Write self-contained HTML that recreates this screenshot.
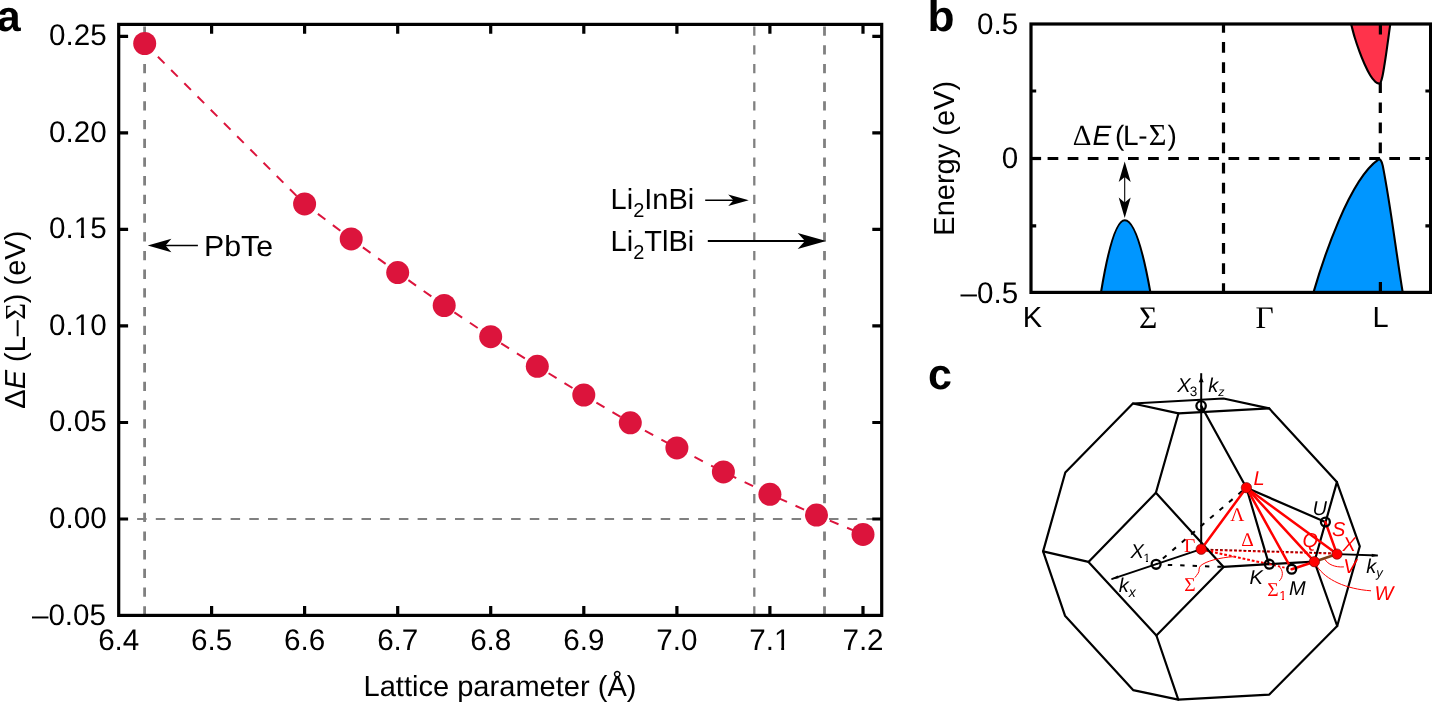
<!DOCTYPE html>
<html>
<head>
<meta charset="utf-8">
<title>Figure</title>
<style>
html,body{margin:0;padding:0;background:#fff;}
body{width:1432px;height:703px;overflow:hidden;font-family:"Liberation Sans",sans-serif;}
svg{display:block;position:absolute;left:0;top:0;text-rendering:geometricPrecision;will-change:transform;font-family:"Liberation Sans",sans-serif;fill:#000;}
.t{font-size:29px;}
.ser{font-family:"Liberation Serif",serif;}
.it{font-style:italic;}
.pl{font-weight:bold;}
.c{font-size:20px;font-style:italic;}
.r{fill:#f00;}
</style>
</head>
<body>
<svg width="1432" height="703" viewBox="0 0 1432 703">

<!-- ================= PANEL A ================= -->
<g id="panelA">
<text class="pl" font-size="43" x="-3.2" y="31.2">a</text>

<!-- grey reference lines -->
<g stroke="#808080" fill="none">
<line x1="144.6" y1="26.5" x2="144.6" y2="614" stroke-width="2.8" stroke-dasharray="9.3 9.4"/>
<line x1="754.3" y1="26.5" x2="754.3" y2="614" stroke-width="2.3" stroke-dasharray="9.3 9.4"/>
<line x1="824.5" y1="26.5" x2="824.5" y2="614" stroke-width="2.8" stroke-dasharray="9.3 9.4"/>
<line x1="137.1" y1="519" x2="881" y2="519" stroke-width="2" stroke-dasharray="9.5 9.2"/>
</g>

<!-- data line -->
<polyline fill="none" stroke="#dc143c" stroke-width="2" stroke-dasharray="9.4 9.3"
 points="144.7,43.5 304.6,203.9 351.2,238.9 397.7,272.6 444.2,305.5 490.7,336.7 537.3,366.3 583.8,395 630.3,422.8 676.9,447.9 723.4,471.9 769.9,494.3 816.5,515.1 863,534.4"/>
<g fill="#dc143c">
<circle cx="144.7" cy="43.5" r="11.5"/>
<circle cx="304.6" cy="203.9" r="11.5"/>
<circle cx="351.2" cy="238.9" r="11.5"/>
<circle cx="397.7" cy="272.6" r="11.5"/>
<circle cx="444.2" cy="305.5" r="11.5"/>
<circle cx="490.7" cy="336.7" r="11.5"/>
<circle cx="537.3" cy="366.3" r="11.5"/>
<circle cx="583.8" cy="395" r="11.5"/>
<circle cx="630.3" cy="422.8" r="11.5"/>
<circle cx="676.9" cy="447.9" r="11.5"/>
<circle cx="723.4" cy="471.9" r="11.5"/>
<circle cx="769.9" cy="494.3" r="11.5"/>
<circle cx="816.5" cy="515.1" r="11.5"/>
<circle cx="863" cy="534.4" r="11.5"/>
</g>

<!-- frame + ticks -->
<g stroke="#000" stroke-width="3.2" fill="none">
<rect x="118.7" y="24.4" width="763" height="591"/>
<!-- bottom ticks -->
<path d="M211.6 615.4V606 M304.6 615.4V606 M397.7 615.4V606 M490.7 615.4V606 M583.8 615.4V606 M676.9 615.4V606 M769.9 615.4V606 M863 615.4V606"/>
<!-- top ticks -->
<path d="M211.6 24.4V33.8 M304.6 24.4V33.8 M397.7 24.4V33.8 M490.7 24.4V33.8 M583.8 24.4V33.8 M676.9 24.4V33.8 M769.9 24.4V33.8 M863 24.4V33.8"/>
<!-- left ticks -->
<path d="M118.7 36.3H128.1 M118.7 132.9H128.1 M118.7 229.4H128.1 M118.7 325.9H128.1 M118.7 422.5H128.1 M118.7 519H128.1"/>
<!-- right ticks -->
<path d="M881.7 36.3H872.3 M881.7 132.9H872.3 M881.7 229.4H872.3 M881.7 325.9H872.3 M881.7 422.5H872.3 M881.7 519H872.3"/>
</g>

<!-- y tick labels -->
<g class="t" text-anchor="end">
<text transform="translate(106.6 45.1) scale(1 1.005)" font-size="29.6">0.25</text>
<text transform="translate(106.6 141.6) scale(1 1.005)" font-size="29.6">0.20</text>
<text transform="translate(106.6 238.1) scale(1 1.005)" font-size="29.6">0.15</text>
<text transform="translate(106.6 334.7) scale(1 1.005)" font-size="29.6">0.10</text>
<text transform="translate(106.6 431.2) scale(1 1.005)" font-size="29.6">0.05</text>
<text transform="translate(106.6 527.9) scale(1 1.005)" font-size="29.6">0.00</text>
<text transform="translate(106 624.6) scale(1 1.005)" font-size="29.6">–0.05</text>
</g>
<!-- x tick labels -->
<g class="t" text-anchor="middle">
<text transform="translate(118.7 649.6) scale(1 1.005)" font-size="29.6">6.4</text>
<text transform="translate(211.6 649.6) scale(1 1.005)" font-size="29.6">6.5</text>
<text transform="translate(304.6 649.6) scale(1 1.005)" font-size="29.6">6.6</text>
<text transform="translate(397.7 649.6) scale(1 1.005)" font-size="29.6">6.7</text>
<text transform="translate(490.7 649.6) scale(1 1.005)" font-size="29.6">6.8</text>
<text transform="translate(583.8 649.6) scale(1 1.005)" font-size="29.6">6.9</text>
<text transform="translate(676.9 649.6) scale(1 1.005)" font-size="29.6">7.0</text>
<text transform="translate(769.9 649.6) scale(1 1.005)" font-size="29.6">7.1</text>
<text transform="translate(863 649.6) scale(1 1.005)" font-size="29.6">7.2</text>
</g>
<!-- hide foot serif of "1" glyphs (target font has none) -->
<g fill="#fff">
<rect x="75.3" y="234.6" width="5.6" height="3.9"/><rect x="84.1" y="234.6" width="5.2" height="3.9"/>
<rect x="75.3" y="331.6" width="5.6" height="3.9"/><rect x="84.1" y="331.6" width="5.2" height="3.9"/>
<rect x="775.3" y="646.6" width="5.9" height="3.9"/><rect x="784.1" y="646.6" width="5.2" height="3.9"/>
</g>
<text class="t" x="500" y="696" text-anchor="middle" textLength="273" lengthAdjust="spacingAndGlyphs">Lattice parameter (Å)</text>
<text class="t" transform="translate(24.9 319.7) rotate(-90)" text-anchor="middle">Δ<tspan class="it">E</tspan> (L–<tspan class="ser">Σ</tspan>) (eV)</text>

<!-- annotations -->
<text class="t" x="204" y="256.2" textLength="69" lengthAdjust="spacingAndGlyphs">PbTe</text>
<path d="M197.9 245.5H160" stroke="#000" stroke-width="1.6" fill="none"/>
<path d="M147.7 245.5L171.4 238.7L165.5 245.5L171.4 252.3Z" fill="#000"/>

<text class="t" x="610.6" y="208.8">Li<tspan font-size="20" dy="7.7">2</tspan><tspan dy="-7.7">InBi</tspan></text>
<path d="M705.2 200.3H738" stroke="#000" stroke-width="1.4" fill="none"/>
<path d="M748.8 200.3L728.2 194.6L733.5 200.3L728.2 206Z" fill="#000"/>

<text class="t" x="610.6" y="251.2">Li<tspan font-size="20" dy="7.7">2</tspan><tspan dy="-7.7">TlBi</tspan></text>
<path d="M707.8 240.9H810" stroke="#000" stroke-width="2" fill="none"/>
<path d="M826.2 240.9L797.7 232.9L805 240.9L797.7 248.9Z" fill="#000"/>
</g>

<!-- ================= PANEL B ================= -->
<g id="panelB">
<text class="pl" font-size="43" transform="translate(927.4 31) scale(1.03 1)">b</text>

<!-- dashed guide lines -->
<g stroke="#000" fill="none" stroke-width="3.2">
<line x1="1031" y1="158.5" x2="1041.1" y2="158.5"/>
<line x1="1047.6" y1="158.5" x2="1430" y2="158.5" stroke-dasharray="10.7 9.4"/>
<line x1="1223.5" y1="24" x2="1223.5" y2="292" stroke-dasharray="10.7 9.4" stroke-dashoffset="2"/>
<line x1="1380.3" y1="24" x2="1380.3" y2="160" stroke-dasharray="10.7 9.4" stroke-dashoffset="2"/>
</g>

<!-- filled bands -->
<path d="M1101 292.4Q1112.9 220.2 1124.8 220.2Q1137.6 220.2 1150.4 292.4Z" fill="#0096ff" stroke="#000" stroke-width="2.1" stroke-linejoin="round"/>
<path d="M1313.5 292.4C1323 259.7 1349.2 179.8 1378.3 159.7C1380 158.6 1381.7 160.3 1382.8 165.9C1390.9 207.4 1395.8 250.6 1402.7 292.4Z" fill="#0096ff" stroke="#000" stroke-width="2.1" stroke-linejoin="round"/>
<path d="M1351.1 24.0C1351.7 26.3 1353.4 33.2 1354.8 37.8C1356.2 42.4 1357.8 47.0 1359.4 51.4C1361.0 55.8 1362.7 60.0 1364.5 64.0C1366.3 68.0 1368.4 72.3 1370.2 75.3C1372.0 78.3 1373.8 80.4 1375.3 81.8C1376.8 83.2 1378.3 83.5 1379.2 83.6C1380.1 83.7 1380.1 83.8 1380.6 82.6C1381.1 81.4 1381.7 79.6 1382.4 76.5C1383.1 73.4 1383.9 68.2 1384.6 64.0C1385.3 59.8 1385.9 55.8 1386.5 51.4C1387.1 47.0 1387.8 42.4 1388.4 37.8C1389.0 33.2 1390.0 26.3 1390.3 24.0Z" fill="#ff334b" stroke="#000" stroke-width="2.1" stroke-linejoin="round"/>

<!-- frame + ticks -->
<g stroke="#000" stroke-width="3.2" fill="none">
<rect x="1031" y="24" width="399.6" height="268.4"/>
<path d="M1031 91H1036.2 M1031 225.8H1036.2 M1430.6 91H1425.4 M1430.6 158.5H1425.4 M1430.6 225.8H1425.4"/>
<path d="M1380.4 24V34.6 M1380.4 292.4V282"/>
</g>

<!-- tick labels -->
<g class="t" text-anchor="end">
<text transform="translate(1018.2 33.6) scale(1 1.005)" font-size="29.6">0.5</text>
<text transform="translate(1018.2 168.3) scale(1 1.005)" font-size="29.6">0</text>
<text transform="translate(1018.2 302.6) scale(1 1.005)" font-size="29.6">–0.5</text>
</g>
<text class="t" x="1032.5" y="327.4" text-anchor="middle">K</text>
<text class="ser" font-size="31.5" x="1148.2" y="328.3" text-anchor="middle">Σ</text>
<text class="ser" font-size="31.5" x="1264.7" y="327.9" text-anchor="middle">Γ</text>
<text class="t" x="1380.6" y="327.3" text-anchor="middle">L</text>
<text class="t" transform="translate(954.2 158.3) rotate(-90)" text-anchor="middle">Energy (eV)</text>
<text font-size="28" y="145"><tspan class="ser" font-size="29" x="1072.7">Δ</tspan><tspan class="it" x="1092.6">E</tspan><tspan x="1115.1">(</tspan><tspan x="1123.1">L</tspan><tspan x="1138.2">-</tspan><tspan class="ser" font-size="30.5" x="1148.7">Σ</tspan><tspan x="1167.4">)</tspan></text>

<!-- double arrow -->
<path d="M1124.7 172V208" stroke="#000" stroke-width="1.1" fill="none"/>
<path d="M1124.7 161.6L1118.7 182L1124.7 177L1130.7 182Z" fill="#000"/>
<path d="M1124.7 218L1118.7 197.6L1124.7 202.6L1130.7 197.6Z" fill="#000"/>
</g>

<!-- ================= PANEL C ================= -->
<g id="panelC">
<text class="pl" font-size="43" x="928" y="389.3">c</text>

<!-- red dotted -->
<g stroke="#f00" stroke-width="2.1" fill="none" stroke-dasharray="2.8 1.9">
<path d="M1201.2 549.6L1337 553.6"/>
<path d="M1201.2 549.6L1268.9 564.1"/>
</g>
<path d="M1201.2 549.2L1337 553.2" stroke="#000" stroke-opacity="0.5" stroke-width="1.1" fill="none" stroke-dasharray="2.8 1.9"/>
<!-- polyhedron -->
<g stroke="#000" stroke-width="2.2" fill="none" stroke-linejoin="round" stroke-linecap="round">
<path d="M1132.9 403.5L1223.5 398.5L1269.1 408.3L1336.9 482.1L1359.8 546.3L1337.2 626L1269.3 694.6L1178.3 699.6L1133.1 690.1L1065 615.7L1043.1 551.4L1065.3 472.5Z"/>
<path d="M1132.9 403.5L1178.5 413.3L1269.1 408.3"/>
<path d="M1178.5 413.3L1155.9 492.8"/>
<path d="M1155.9 492.8L1088.5 561.9L1156.4 635.5L1223.6 566.9Z"/>
<path d="M1043.1 551.4L1088.5 561.9"/>
<path d="M1156.4 635.5L1178.3 699.6"/>
<path d="M1223.6 566.9L1268.9 564.1L1314.4 561.7"/>
<path d="M1336.9 482.1L1314.4 561.7L1337.2 626"/>
<!-- axes -->
<path d="M1201.2 549V373.2" stroke-width="2" stroke-linecap="butt"/>
<path d="M1201.2 549.2L1111.5 579.1" stroke-width="1.9" stroke-linecap="butt"/>
<path d="M1337 554.1L1377.8 555.5" stroke-width="1.9" stroke-linecap="butt"/>
<!-- inner black lines -->
<path d="M1201.3 406L1246.4 487.7"/>
<path d="M1246.4 487.7L1325.4 522"/>
<path d="M1246.4 487.7L1268.9 564.1"/>
</g>
<!-- axis arrowheads -->
<path d="M1201.2 376.6L1198.7 382.2L1203.7 382.2Z" fill="#000"/>
<path d="M1110.6 579.4L1118.6 578.2L1117.7 575.5Z" fill="#000"/>
<path d="M1378.3 555.5L1371.8 553.7L1371.7 557Z" fill="#000"/>

<!-- dashed black -->
<g stroke="#000" stroke-width="2" fill="none">
<path d="M1246.4 487.4L1156.1 564.3" stroke-dasharray="4.8 7.6" stroke-dashoffset="-5.7"/>
<path d="M1167.8 564.9L1223.6 566.9" stroke-dasharray="4.4 8"/>
</g>


<!-- red thick -->
<g stroke="#f00" stroke-width="2.5" fill="none" stroke-linecap="round">
<path d="M1201.2 549.2L1246.4 487.7"/>
<path d="M1246.4 487.7L1289.2 564.8"/>
<path d="M1246.4 487.7L1314.4 561.7"/>
<path d="M1246.4 487.7L1337 554.1"/>
<path d="M1325.4 522L1337 554.1"/>
<path d="M1291.7 569.2L1314.4 561.7"/>
</g>
<path d="M1314.4 561.7L1337 554.1" stroke="#7d3f17" stroke-width="2.6" fill="none"/>

<path d="M1269.3 564.2L1291.7 569.2" stroke="#f00" stroke-width="1.8" fill="none" stroke-dasharray="2.4 2"/>
<!-- thin red pointers -->
<g stroke="#f00" stroke-width="1" fill="none">
<path d="M1233.2 556.7C1220 557.6 1206 561 1200.5 565.8C1198 568.5 1200 571 1198 573.4C1197 575 1196 576 1194.9 577.6"/>
<path d="M1278.9 566.4C1283.3 570 1283.6 577 1279.2 581"/>
<path d="M1324.7 559.1C1328 564.5 1335 567.5 1343.9 566.9"/>
<path d="M1316.9 566.2C1326 580 1346 589 1371 590.8"/>
</g>

<!-- rings -->
<g stroke="#000" stroke-width="2.3" fill="none">
<circle cx="1201.1" cy="405.8" r="4.7"/>
<circle cx="1156.1" cy="564.3" r="4.45"/>
<circle cx="1269.3" cy="564.2" r="4.45"/>
<circle cx="1291.7" cy="569.2" r="4.45"/>
<circle cx="1325.4" cy="522" r="4.45"/>
</g>
<!-- red dots -->
<g fill="#f00" stroke="#600" stroke-width="0.6">
<circle cx="1201.2" cy="549.2" r="5.2"/>
<circle cx="1246.4" cy="487.7" r="5.2"/>
<circle cx="1314.4" cy="561.7" r="5.2"/>
<circle cx="1337" cy="554.1" r="5.2"/>
</g>

<!-- labels black -->
<g class="c">
<text x="1177.3" y="391.7">X<tspan font-size="13.5" font-style="normal" dy="4.4" dx="-0.8">3</tspan></text>
<text x="1208.3" y="392.2">k<tspan font-size="12.5" dy="3.4">z</tspan></text>
<text x="1130.6" y="557.6">X<tspan font-size="12" font-style="normal" dy="4.2" dx="-0.5">1</tspan></text>
<text x="1118.8" y="592.4">k<tspan font-size="14" dy="4.6">x</tspan></text>
<text x="1249.5" y="583.5">K</text>
<text x="1289" y="594.6">M</text>
<text x="1312.4" y="514.8">U</text>
<text x="1366.2" y="572.7">k<tspan font-size="13" dy="4">y</tspan></text>
</g>
<!-- labels red -->
<g class="c r">
<text x="1253.6" y="485.4">L</text>
<text x="1332" y="535.8">S</text>
<text x="1302.4" y="547.3">Q</text>
<text x="1342.6" y="551.2">X</text>
<text x="1343.2" y="572.7">V</text>
<text x="1374.4" y="599.6">W</text>
</g>
<g class="ser r" font-size="19.5">
<text x="1184" y="551.6">Γ</text>
<text x="1230.2" y="521.4">Λ</text>
<text x="1241.2" y="546.2">Δ</text>
<text x="1184.2" y="590.8">Σ</text>
<text x="1267.2" y="596">Σ<tspan style="font-family:'Liberation Sans',sans-serif" font-size="13" dy="4" dx="0.6">1</tspan></text>
</g>
<g fill="#fff">
<rect x="1143.4" y="560.4" width="2.5" height="1.7"/><rect x="1148" y="560.4" width="1.9" height="1.7"/>
<rect x="1279.4" y="598.4" width="2.4" height="1.8"/><rect x="1284" y="598.4" width="2.2" height="1.8"/>
</g>
</g>
</svg>
</body>
</html>
